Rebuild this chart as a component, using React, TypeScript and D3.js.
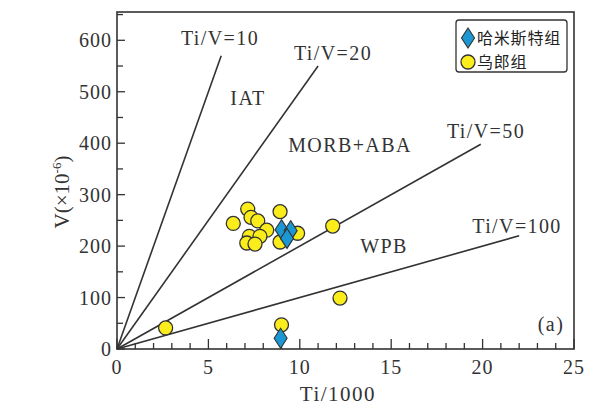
import React from 'react';
import * as d3 from 'd3';

// Ti/1000 vs V (ppm) discrimination diagram
const xTicks = [0, 5, 10, 15, 20, 25];
const yTicks = [0, 100, 200, 300, 400, 500, 600];

// boundary lines: Ti/V ratio and where the line stops (Ti/1000)
const ratioLines = [
  { ratio: 10, xEnd: 5.7, label: 'Ti/V=10' },
  { ratio: 20, xEnd: 11.0, label: 'Ti/V=20' },
  { ratio: 50, xEnd: 19.9, label: 'Ti/V=50' },
  { ratio: 100, xEnd: 22.0, label: 'Ti/V=100' },
];

// 乌郎组 samples [Ti/1000, V]
const wulang: [number, number][] = [
  [2.66, 41], [9.0, 47], [12.2, 99], [11.8, 239],
  [7.15, 272], [6.36, 244], [7.33, 256], [7.7, 249],
  [8.92, 267], [8.19, 231], [7.24, 219], [7.82, 219],
  [7.1, 206], [7.55, 204], [8.92, 208], [9.88, 225],
];

// 哈米斯特组 samples [Ti/1000, V]
const hamisite: [number, number][] = [
  [9.0, 232], [9.5, 230], [9.3, 215], [8.95, 21],
];

const W = 612;
const H = 406;
const left = 117, right = 574, top = 12, bottom = 349;

const serif = '"Liberation Serif", "Times New Roman", serif';
const cjk = '"Noto Sans CJK SC", sans-serif';
const yellow = '#fbec1c';
const blue = '#1b98d3';
const ink = '#333';

export default function App() {
  const x = d3.scaleLinear().domain([0, 25]).range([left, right]);
  const y = d3.scaleLinear().domain([0, 655]).range([bottom, top]);

  const line = d3.line<[number, number]>().x(d => x(d[0])).y(d => y(d[1]));
  const diamond = (cx: number, cy: number) =>
    `M${cx},${cy - 10}L${cx + 6.5},${cy}L${cx},${cy + 10}L${cx - 6.5},${cy}Z`;

  const xMinor = d3.range(0, 25.01, 1);
  const yMinor = d3.range(0, 651, 50);

  return (
    <svg width={W} height={H} style={{ position: 'absolute', left: 0, top: 0, background: '#fff' }}>
      {/* frame */}
      <rect x={left} y={top} width={right - left} height={bottom - top} fill="none" stroke={ink} strokeWidth={1.6} />

      {/* x ticks */}
      {xMinor.map(t => (
        <line key={'xm' + t} x1={x(t)} x2={x(t)} y1={bottom} y2={bottom - (t % 5 === 0 ? 10 : 6)} stroke={ink} strokeWidth={1.3} />
      ))}
      {xTicks.map(t => (
        <text key={'xl' + t} x={x(t)} y={bottom + 25} textAnchor="middle" fontFamily={serif} fontSize={20} fill={ink} letterSpacing={1}>{t}</text>
      ))}

      {/* y ticks */}
      {yMinor.map(t => (
        <line key={'ym' + t} x1={left} x2={left + (t % 100 === 0 ? 8 : 6)} y1={y(t)} y2={y(t)} stroke={ink} strokeWidth={1.3} />
      ))}
      {yTicks.map(t => (
        <text key={'yl' + t} x={left - 5} y={y(t) + 7} textAnchor="end" fontFamily={serif} fontSize={20} fill={ink} letterSpacing={1}>{t}</text>
      ))}

      {/* axis titles */}
      <text x={338} y={401} textAnchor="middle" fontFamily={serif} fontSize={21} fill={ink} letterSpacing={1.5}>Ti/1000</text>
      <text transform="translate(69,192) rotate(-90)" textAnchor="middle" fontFamily={serif} fontSize={21} fill={ink}>
        V(×10<tspan dy={-8} fontSize={13}>-6</tspan><tspan dy={8}>)</tspan>
      </text>

      {/* ratio lines */}
      {ratioLines.map(r => (
        <path key={r.label} d={line([[0, 0], [r.xEnd, (r.xEnd * 1000) / r.ratio]]) || ''} fill="none" stroke={ink} strokeWidth={1.6} />
      ))}

      {/* field labels */}
      <g fontFamily={serif} fontSize={20} fill={ink} letterSpacing={1.4}>
        <text x={220} y={45} textAnchor="middle">Ti/V=10</text>
        <text x={333} y={60} textAnchor="middle">Ti/V=20</text>
        <text x={486} y={138} textAnchor="middle">Ti/V=50</text>
        <text x={517} y={233} textAnchor="middle">Ti/V=100</text>
        <text x={248} y={105} textAnchor="middle">IAT</text>
        <text x={350} y={152} textAnchor="middle">MORB+ABA</text>
        <text x={384} y={253} textAnchor="middle">WPB</text>
        <text x={551} y={331} textAnchor="middle">(a)</text>
      </g>

      {/* samples */}
      {wulang.map((d, i) => (
        <circle key={'w' + i} cx={x(d[0])} cy={y(d[1])} r={7} fill={yellow} stroke={ink} strokeWidth={1.3} />
      ))}
      {hamisite.map((d, i) => (
        <path key={'h' + i} d={diamond(x(d[0]), y(d[1]))} fill={blue} stroke={ink} strokeWidth={1.1} />
      ))}

      {/* legend */}
      <rect x={456} y={20} width={111} height={52} rx={3} fill="#fff" stroke={ink} strokeWidth={1.3} />
      <path d={diamond(468, 38)} fill={blue} stroke={ink} strokeWidth={1.1} />
      <text x={477} y={44} fontFamily={cjk} fontSize={16} fill="#222" letterSpacing={0.8}>哈米斯特组</text>
      <circle cx={468} cy={62} r={7} fill={yellow} stroke={ink} strokeWidth={1.3} />
      <text x={477} y={68} fontFamily={cjk} fontSize={16} fill="#222" letterSpacing={0.8}>乌郎组</text>
    </svg>
  );
}
